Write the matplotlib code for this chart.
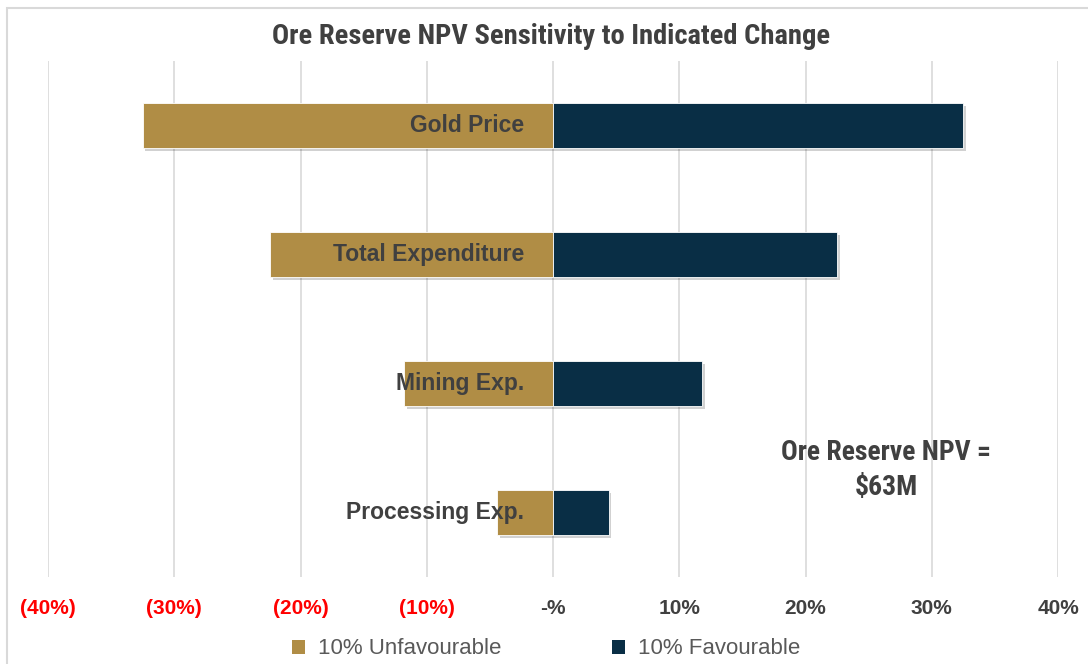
import matplotlib
matplotlib.use("Agg")
import matplotlib.pyplot as plt
import matplotlib.patheffects as pe
from matplotlib.patches import Rectangle, Patch
from matplotlib.ticker import FixedLocator

# ============================================================
# Data
# ============================================================
categories = ["Gold Price", "Total Expenditure", "Mining Exp.", "Processing Exp."]
unfavourable = [-32.5, -22.4, -11.8, -4.4]
favourable = [32.5, 22.5, 11.8, 4.4]
tick_values = [-40, -30, -20, -10, 0, 10, 20, 30, 40]
tick_labels = ["(40%)", "(30%)", "(20%)", "(10%)", "-%", "10%", "20%", "30%", "40%"]
series_names = ["10% Unfavourable", "10% Favourable"]

GOLD = "#B08D45"
NAVY = "#092E45"
DARK = "#404040"
GRID = "#D9D9D9"
NARROW = ["Roboto Condensed", "Roboto", "DejaVu Sans"]
SANS = ["Liberation Sans", "DejaVu Sans"]

fig = plt.figure(figsize=(10.88, 6.64), dpi=100, facecolor="white")
ax = fig.add_axes([48 / 1088, 87 / 664, 1010 / 1088, 516 / 664])

ypos = list(range(len(categories)))
shadow = [pe.SimplePatchShadow(offset=(2, -2), shadow_rgbFace="black", alpha=0.18), pe.Normal()]

bars_u = ax.barh(ypos, unfavourable, height=0.35, color=GOLD, edgecolor="white", linewidth=0.6)
bars_f = ax.barh(ypos, favourable, height=0.35, color=NAVY, edgecolor="white", linewidth=0.6)
for b in list(bars_u) + list(bars_f):
    b.set_path_effects(shadow)

# category labels just left of the zero line
for y, cat in zip(ypos, categories):
    ax.annotate(cat, xy=(0, y), xytext=(-21, 0), textcoords="offset points",
                ha="right", va="center", fontsize=16.5, fontweight="bold",
                color=DARK, family=SANS, zorder=5)

ax.set_xlim(-40, 40)
ax.set_ylim(len(categories) - 0.5, -0.5)
ax.xaxis.set_major_locator(FixedLocator(tick_values))
ax.set_xticklabels(tick_labels)
ax.set_yticks([])
ax.tick_params(axis="x", length=0, pad=16)
for lbl, v in zip(ax.get_xticklabels(), tick_values):
    lbl.set_fontweight("bold")
    lbl.set_fontsize(15)
    lbl.set_family(SANS)
    lbl.set_color("#FF0000" if v < 0 else DARK)

ax.grid(axis="x", color=GRID, linewidth=1.2)
ax.set_axisbelow(True)
for spine in ax.spines.values():
    spine.set_visible(False)

fig.text(551 / 1088, 1 - 37 / 664, "Ore Reserve NPV Sensitivity to Indicated Change",
         ha="center", va="center", fontsize=20.5, fontweight="bold", color=DARK, family=NARROW)

fig.text(886 / 1088, 1 - 470 / 664, "Ore Reserve NPV =\n$63M", ha="center", va="center",
         fontsize=20, fontweight="bold", color=DARK, family=NARROW, linespacing=1.38)

handles = [Patch(facecolor=GOLD), Patch(facecolor=NAVY)]
leg = fig.legend(handles=handles, labels=series_names, loc="center",
                 bbox_to_anchor=(546 / 1088, 1 - 649 / 664),
                 ncol=2, frameon=False, handlelength=0.6, handleheight=0.6,
                 handletextpad=0.55, columnspacing=5.0,
                 prop={"family": SANS, "size": 16})
for t in leg.get_texts():
    t.set_color("#595959")

# chart-area border (cropped on right/bottom)
fig.patches.append(Rectangle((7 / 1088, -0.1), 1.2, 1.1 - 8 / 664, transform=fig.transFigure,
                             fill=False, edgecolor=GRID, linewidth=1.5))

fig.savefig("out.png", dpi=100, facecolor="white")
